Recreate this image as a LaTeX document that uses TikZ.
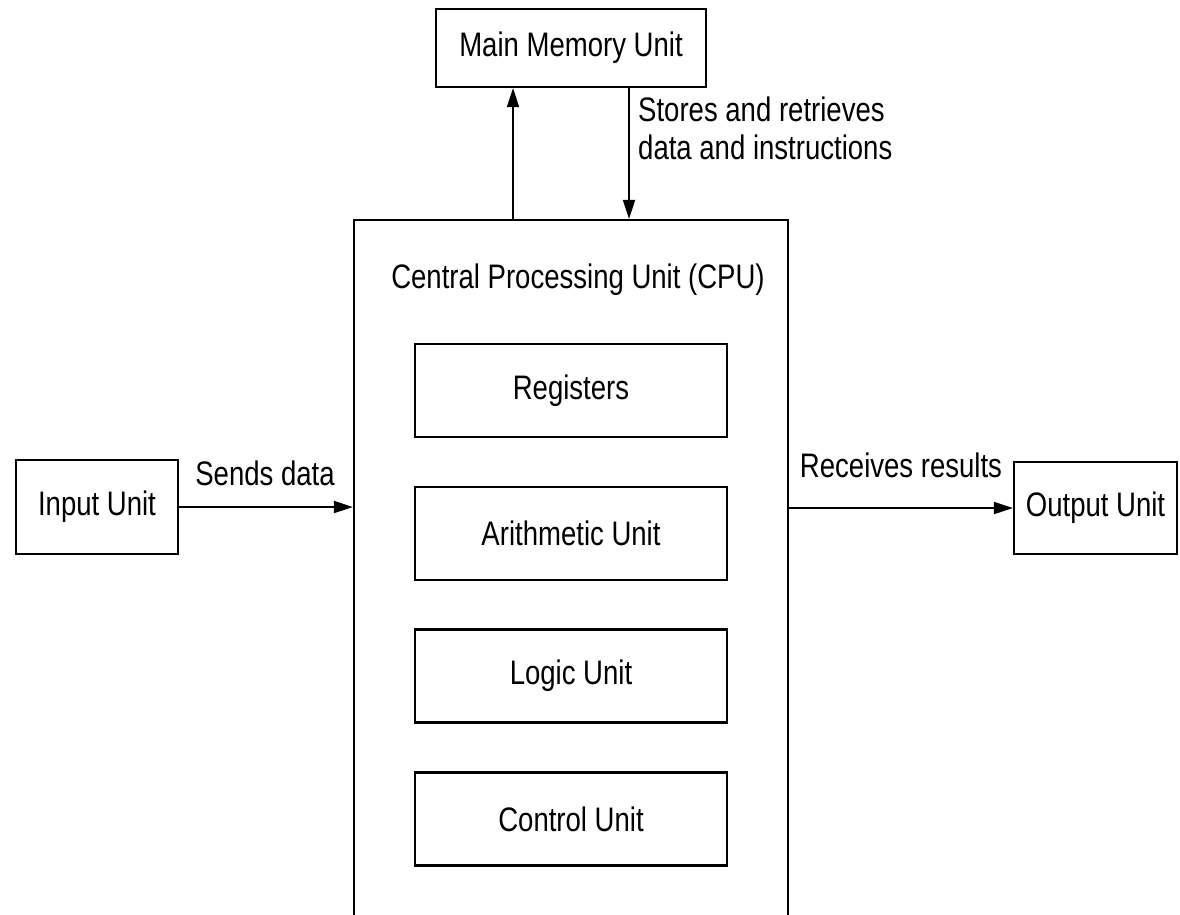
\documentclass[tikz,border=0pt]{standalone}
\usepackage{fontspec}
\setmainfont[FakeStretch=0.81]{Liberation Sans}
\usetikzlibrary{arrows.meta}
\begin{document}
\begin{tikzpicture}[x=1pt,y=-1pt,
  box/.style={draw,line width=2.2pt,minimum width=#1,inner sep=0pt},
  lbl/.style={inner sep=0pt},
  conn/.style={line width=1.9pt,-{Triangle[length=19pt,width=12pt]}},
  every node/.style={font=\fontsize{34}{38}\selectfont}]
\useasboundingbox (0,0) rectangle (1180,915);
\clip (0,0) rectangle (1180,915);
\node[box=270pt,minimum height=78pt] (mem) at (571,48) {Main Memory Unit};
\node[box=434pt,minimum height=780pt] (cpu) at (571,610) {};
\node[lbl] (cputitle) at (578,280) {Central Processing Unit (CPU)};
\node[box=312pt,minimum height=93pt] (reg) at (571,390.5) {Registers};
\node[box=312pt,minimum height=93pt] (ari) at (571,533.5) {Arithmetic Unit};
\node[box=312pt,minimum height=93pt] (log) at (571,676) {Logic Unit};
\node[box=312pt,minimum height=93pt] (ctl) at (571,819) {Control Unit};
\node[box=162pt,minimum height=94pt] (in) at (97,507) {Input Unit};
\node[box=163pt,minimum height=92pt] (out) at (1095.5,508) {Output Unit};
\coordinate (upx) at (513,0);
\coordinate (dnx) at (629,0);
\draw[conn] (upx |- cpu.north) -- (upx |- mem.south);
\draw[conn] (dnx |- mem.south) -- (dnx |- cpu.north);
\draw[conn] (in.east) -- (in.east -| cpu.west);
\draw[conn] (cpu.east |- out.west) -- (out.west);
\node[lbl] (sends) at (265,473) {Sends data};
\node[lbl] (recv) at (901,465) {Receives results};
\node[lbl,anchor=west,align=left] (stores) at (638,128) {Stores and retrieves\\data and instructions};
\end{tikzpicture}
\end{document}
